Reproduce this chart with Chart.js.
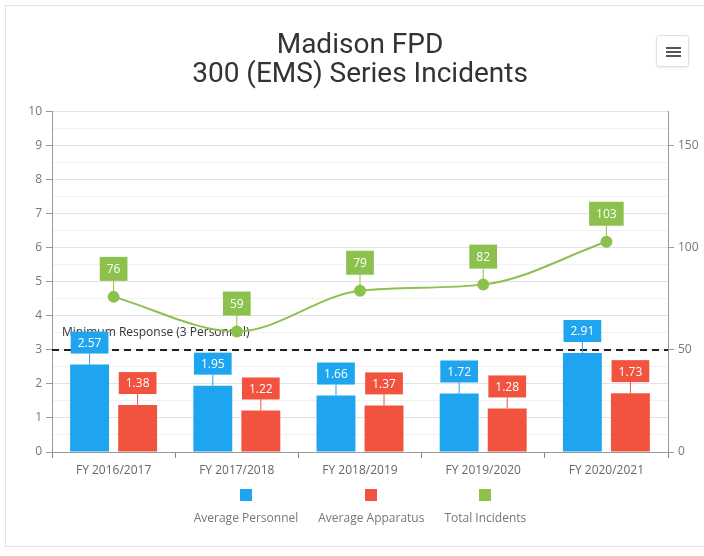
<!DOCTYPE html>
<html>
<head>
<meta charset="utf-8">
<script src="https://cdn.jsdelivr.net/npm/chart.js@4.4.1/dist/chart.umd.min.js"></script>
<style>
  html, body { margin: 0; padding: 0; background: #fff; }
  #wrap { position: relative; width: 704px; height: 556px; overflow: hidden; }
  #frame { position: absolute; left: 5px; top: 5px; width: 710px; height: 542px; border: 1px solid #e3e3e3; box-sizing: border-box; }
  canvas { position: absolute; left: 0; top: 0; }
  #menu { position: absolute; left: 656px; top: 35px; width: 33px; height: 32px; border: 1px solid #e0e0e0; border-radius: 3px; box-sizing: border-box; background: #fff; box-shadow: 0 1px 2px rgba(0,0,0,0.08); }
  #menu span { position: absolute; left: 9px; width: 15px; height: 2px; background: #555; }
  #legend { position: absolute; left: 52px; top: 489px; width: 616px; display: flex; justify-content: center; gap: 20px; font-family: "Open Sans", sans-serif; font-size: 12px; color: #777; }
  .item { display: flex; flex-direction: column; align-items: center; }
  .swatch { width: 12px; height: 12px; margin-bottom: 8px; }
</style>
</head>
<body>
<div id="wrap">
  <div id="frame"></div>
  <canvas id="chart" width="704" height="556"></canvas>
  <div id="menu"><span style="top:11px"></span><span style="top:15px"></span><span style="top:19px"></span></div>
  <div id="legend"></div>
</div>
<script>
// chart data
const categories = ['FY 2016/2017', 'FY 2017/2018', 'FY 2018/2019', 'FY 2019/2020', 'FY 2020/2021'];
const avgPersonnel = [2.57, 1.95, 1.66, 1.72, 2.91];
const avgApparatus = [1.38, 1.22, 1.37, 1.28, 1.73];
const totalIncidents = [76, 59, 79, 82, 103];
const leftTicks = [0, 1, 2, 3, 4, 5, 6, 7, 8, 9, 10];
const rightTicks = [0, 50, 100, 150];
const minResponse = 3;
const minResponseLabel = 'Minimum Response (3 Personnel)';

const BLUE = '#1fa5ef';
const RED = '#f1533f';
const GREEN = '#8cc14e';
const TICK_FONT = { family: '"Open Sans", sans-serif', size: 12 };

// dashed "minimum response" line, drawn under the series
const minLinePlugin = {
    id: 'minLine',
    beforeDatasetsDraw(chart) {
        const { ctx, chartArea, scales } = chart;
        const y = scales.y.getPixelForValue(minResponse);
        ctx.save();
        ctx.strokeStyle = '#222';
        ctx.lineWidth = 2;
        ctx.setLineDash([7, 5]);
        ctx.beginPath();
        ctx.moveTo(chartArea.left, y);
        ctx.lineTo(chartArea.right, y);
        ctx.stroke();
        ctx.setLineDash([]);
        ctx.fillStyle = '#333';
        ctx.font = '12px "Open Sans", sans-serif';
        ctx.textBaseline = 'bottom';
        ctx.fillText(minResponseLabel, chartArea.left + 10, y - 11);
        ctx.restore();
    }
};

// boxed value labels with a short connector
const boxLabelPlugin = {
    id: 'boxLabels',
    afterDatasetsDraw(chart) {
        const ctx = chart.ctx;
        ctx.save();
        ctx.font = '12px "Open Sans", sans-serif';
        ctx.textAlign = 'center';
        ctx.textBaseline = 'middle';
        chart.data.datasets.forEach((ds, i) => {
            const meta = chart.getDatasetMeta(i);
            const isLine = ds.type === 'line';
            const gap = isLine ? 16 : 11;
            const h = isLine ? 24 : 22;
            meta.data.forEach((el, j) => {
                const text = String(ds.data[j]);
                const w = ctx.measureText(text).width + 14;
                const bottom = el.y - gap;
                ctx.strokeStyle = ds.backgroundColor;
                ctx.lineWidth = 1;
                ctx.beginPath();
                ctx.moveTo(el.x, el.y);
                ctx.lineTo(el.x, bottom);
                ctx.stroke();
                ctx.fillStyle = ds.backgroundColor;
                ctx.fillRect(el.x - w / 2, bottom - h, w, h);
                ctx.fillStyle = '#fff';
                ctx.fillText(text, el.x, bottom - h / 2 + 1);
            });
        });
        ctx.restore();
    }
};

const chart = new Chart(document.getElementById('chart'), {
    data: {
        labels: categories,
        datasets: [
            {
                type: 'line',
                label: 'Total Incidents',
                data: totalIncidents,
                yAxisID: 'y1',
                borderColor: GREEN,
                backgroundColor: GREEN,
                pointBackgroundColor: GREEN,
                borderWidth: 2,
                pointRadius: 5,
                cubicInterpolationMode: 'monotone',
                order: 0
            },
            {
                type: 'bar',
                label: 'Average Personnel',
                data: avgPersonnel,
                yAxisID: 'y',
                backgroundColor: BLUE,
                categoryPercentage: 0.78,
                barPercentage: 0.81,
                order: 1
            },
            {
                type: 'bar',
                label: 'Average Apparatus',
                data: avgApparatus,
                yAxisID: 'y',
                backgroundColor: RED,
                categoryPercentage: 0.78,
                barPercentage: 0.81,
                order: 1
            }
        ]
    },
    options: {
        responsive: false,
        animation: false,
        devicePixelRatio: 1,
        layout: { padding: { top: 31, left: 0, right: 0, bottom: 74 } },
        plugins: {
            legend: { display: false },
            tooltip: { enabled: false },
            title: {
                display: true,
                fullSize: false,
                text: ['Madison FPD', '300 (EMS) Series Incidents'],
                color: '#333',
                font: { family: 'Roboto, sans-serif', size: 28, weight: 'normal', lineHeight: 1.05 },
                padding: { top: 0, bottom: 22 }
            }
        },
        scales: {
            x: {
                offset: true,
                grid: { offset: true, drawOnChartArea: false, tickLength: 6, tickColor: '#888' },
                border: { color: '#999' },
                ticks: { color: '#666', font: TICK_FONT, padding: 5, maxRotation: 0 },
                afterFit(s) { s.height = 30; }
            },
            y: {
                position: 'left',
                min: 0,
                max: 10,
                afterBuildTicks(s) {
                    s.ticks = [];
                    leftTicks.forEach((v, k) => {
                        s.ticks.push({ value: v });
                        if (k < leftTicks.length - 1) s.ticks.push({ value: v + 0.5 });
                    });
                },
                grid: {
                    color: c => Number.isInteger(c.tick.value) ? '#e2e2e2' : '#f1f1f1',
                    tickColor: c => Number.isInteger(c.tick.value) ? '#999' : 'rgba(0,0,0,0)',
                    tickLength: 6
                },
                border: { color: '#999' },
                ticks: {
                    color: '#777',
                    font: TICK_FONT,
                    padding: 4,
                    autoSkip: false,
                    callback: v => Number.isInteger(v) ? v : ''
                },
                afterFit(s) { s.width = 52; }
            },
            y1: {
                position: 'right',
                min: 0,
                max: 500 / 3,
                afterBuildTicks(s) { s.ticks = rightTicks.map(v => ({ value: v })); },
                grid: { drawOnChartArea: false, tickLength: 6, tickColor: '#999' },
                border: { color: '#999' },
                ticks: { color: '#777', font: TICK_FONT, padding: 4 },
                afterFit(s) { s.width = 36; }
            }
        }
    },
    plugins: [minLinePlugin, boxLabelPlugin]
});

// legend: swatch above the text, in the order of the reference
const legendEl = document.getElementById('legend');
[chart.data.datasets[1], chart.data.datasets[2], chart.data.datasets[0]].forEach(ds => {
    const item = document.createElement('div');
    item.className = 'item';
    const sw = document.createElement('div');
    sw.className = 'swatch';
    sw.style.background = ds.backgroundColor;
    const label = document.createElement('div');
    label.textContent = ds.label;
    item.appendChild(sw);
    item.appendChild(label);
    legendEl.appendChild(item);
});
</script>
</body>
</html>
